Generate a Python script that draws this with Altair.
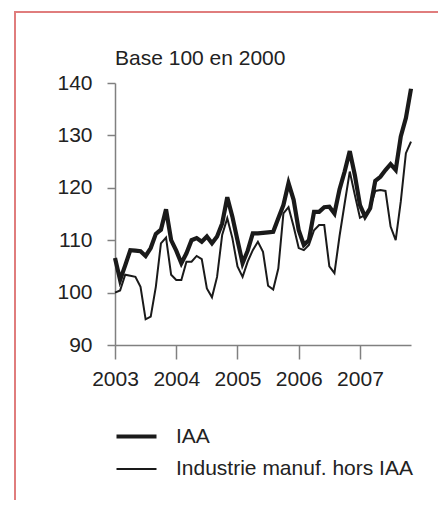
import altair as alt
import pandas as pd

series_names = ["IAA", "Industrie manuf. hors IAA"]
year_ticks = [2003, 2004, 2005, 2006, 2007]
y_ticks = [90, 100, 110, 120, 130, 140]
title_text = ["Base 100 en 2000"]

# Monthly values, Jan 2003 .. Nov 2007
iaa = [106.6, 102.4, 105.2, 108.1, 108.0, 107.9, 107.0, 108.5, 111.2, 112.0,
       115.9, 110.0, 108.0, 105.6, 107.5, 110.0, 110.4, 109.7, 110.7, 109.4,
       110.7, 113.2, 118.2, 114.5, 110.0, 105.6, 108.0, 111.3, 111.3, 111.4,
       111.5, 111.6, 114.2, 116.7, 120.9, 117.7, 111.9, 109.1, 110.0, 115.4,
       115.4, 116.3, 116.4, 115.1, 119.7, 123.1, 127.0, 122.4, 116.7, 114.5,
       116.1, 121.3, 122.1, 123.4, 124.5, 123.4, 129.8, 133.3, 138.9]
manuf = [100.0, 100.4, 103.4, 103.2, 103.0, 101.1, 94.9, 95.4, 101.1, 109.4,
         110.5, 103.4, 102.4, 102.4, 105.9, 105.9, 107.0, 106.4, 100.8, 99.1,
         103.0, 111.0, 114.2, 110.4, 105.0, 103.0, 105.9, 108.1, 109.7, 107.8,
         101.3, 100.6, 104.6, 115.1, 116.3, 112.6, 108.5, 108.1, 109.1, 111.9,
         112.9, 112.9, 105.0, 103.7, 110.8, 117.0, 123.1, 118.6, 114.3, 114.8,
         116.2, 119.4, 119.6, 119.4, 112.6, 110.0, 117.4, 126.6, 128.8]

rows = []
for i, (a, b) in enumerate(zip(iaa, manuf)):
    t = 2003 + i / 12
    rows.append({"t": t, "v": a, "s": series_names[0]})
    rows.append({"t": t, "v": b, "s": series_names[1]})
df = pd.DataFrame(rows)

FONT = "Liberation Sans"
INK = "#1a1a1a"
FRAME = "#e07d7d"

lines = alt.Chart(df).mark_line(color=INK).encode(
    x=alt.X("t:Q",
            scale=alt.Scale(domain=[2003, 2003 + 58 / 12], nice=False, zero=False),
            axis=alt.Axis(values=year_ticks, format="d", title=None,
                          tickSize=14, labelPadding=9, labelOverlap=False,
                          labelFlush=False)),
    y=alt.Y("v:Q",
            scale=alt.Scale(domain=[90, 140], nice=False, zero=False),
            axis=alt.Axis(values=y_ticks, title=None, tickSize=8, labelPadding=15,
                          labelOverlap=False, labelFlush=False)),
    strokeWidth=alt.StrokeWidth(
        "s:N",
        scale=alt.Scale(domain=series_names, range=[4.2, 2]),
        legend=alt.Legend(title=None, orient="none", legendX=-1, legendY=331,
                          symbolType="stroke", symbolSize=1600,
                          symbolStrokeColor=INK, labelFontSize=21,
                          labelFont=FONT, labelColor="#222", labelOffset=17,
                          labelLimit=0, rowPadding=1, padding=0)),
)

title_df = pd.DataFrame({"txt": title_text})
title = alt.Chart(title_df).mark_text(
    align="left", baseline="alphabetic", fontSize=21, font=FONT, color="#222"
).encode(text="txt:N", x=alt.value(0), y=alt.value(-18))

frame_df = pd.DataFrame({"k": [0]})
left_rule = alt.Chart(frame_df).mark_rule(color=FRAME, strokeWidth=2).encode(
    x=alt.value(-100), y=alt.value(-71), y2=alt.value(440))
top_rule = alt.Chart(frame_df).mark_rule(color=FRAME, strokeWidth=2).encode(
    x=alt.value(-101), x2=alt.value(340), y=alt.value(-71))

chart = alt.layer(lines, title, left_rule, top_rule).properties(
    width=296,
    height=262,
    autosize=alt.AutoSizeParams(type="none"),
    padding={"left": 107, "top": 75, "right": 27, "bottom": 155},
).configure_view(stroke=None).configure_axis(
    labelFont=FONT, labelFontSize=21, labelColor="#222",
    domainColor="#808080", tickColor="#808080", domainWidth=1.5, tickWidth=1.5,
    grid=False,
)

chart.save("out.html", embed_options={"renderer": "svg", "actions": False})
